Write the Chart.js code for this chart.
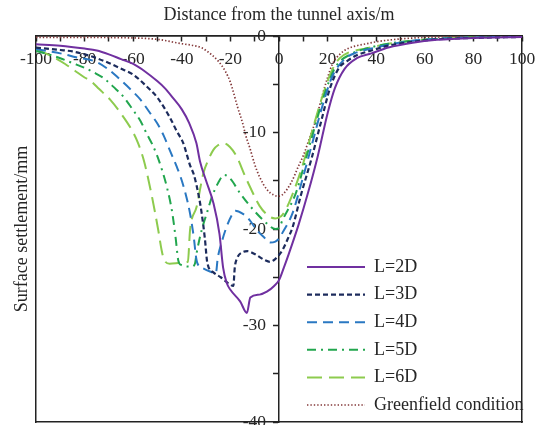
<!DOCTYPE html>
<html>
<head>
<meta charset="utf-8">
<script src="https://cdn.jsdelivr.net/npm/chart.js@4.4.1/dist/chart.umd.min.js"></script>
<style>
    html, body { margin: 0; padding: 0; background: #fff; }
    #wrap { width: 547px; height: 425px; }
</style>
</head>
<body>
<div id="wrap"><canvas id="settlement_chart" width="547" height="425"></canvas></div>
<script>
// トンネル軸からの距離(m)と地表沈下量(mm)
// L=2D
const l2dX = [-100, -90, -80, -75, -70, -65, -60, -55, -50, -47, -44, -40, -37, -34, -32.5, -30, -27, -24.5, -23, -21.5, -20, -16, -13.2, -11.8, -8, -5, -2, 0, 2, 4, 8, 12, 16, 20, 23, 27, 32, 38, 45, 55, 65, 80, 100];
const l2dY = [-0.85, -1.0, -1.3, -1.5, -1.9, -2.4, -2.9, -3.7, -4.7, -5.4, -6.3, -7.6, -9.0, -11.1, -13.0, -15.0, -17.3, -20.5, -24.0, -25.6, -26.3, -27.5, -28.7, -27.1, -26.8, -26.5, -25.9, -25.3, -24.0, -22.6, -19.6, -16.2, -12.4, -8.0, -5.4, -3.4, -2.3, -1.8, -1.2, -0.7, -0.4, -0.2, -0.1];
// L=3D
const l3dX = [-100, -90, -85, -80, -75, -70, -64, -60, -55, -50, -45, -42, -39.4, -36.6, -35, -33, -31.8, -30.5, -29.5, -27, -24, -21, -18.8, -18.2, -17.2, -15, -13, -10, -6, -3.7, -1.5, 0, 1.4, 4, 5.5, 9, 13.5, 17.5, 21, 24.7, 28, 32, 38, 45, 55, 65, 80, 100];
const l3dY = [-1.2, -1.45, -1.6, -1.9, -2.3, -2.8, -3.5, -4.0, -5.1, -6.4, -8.4, -9.9, -11.1, -13.4, -14.4, -16.6, -18.4, -21.0, -23.5, -24.5, -25.0, -25.6, -25.9, -24.0, -23.0, -22.4, -22.3, -22.6, -23.2, -23.4, -23.1, -22.7, -22.2, -20.8, -19.9, -16.5, -12.6, -8.7, -5.4, -3.3, -2.6, -2.0, -1.5, -1.0, -0.6, -0.35, -0.2, -0.1];
// L=4D
const l4dX = [-100, -90, -83.5, -75, -70, -65, -60, -57, -53, -50, -47.5, -45, -42, -40.5, -38.5, -36.6, -35, -34.2, -33.5, -31, -28.4, -26, -25.2, -23.5, -21.6, -19.5, -18, -15, -12, -9.2, -6, -3.7, -1.5, 0, 1.4, 5.5, 9.6, 13.7, 17.8, 21.9, 27.4, 32, 38, 45, 55, 65, 80, 100];
const l4dY = [-1.35, -1.8, -2.2, -2.7, -3.5, -4.6, -5.8, -6.6, -8.0, -9.1, -10.3, -11.8, -13.6, -14.6, -16.3, -18.4, -21.0, -22.8, -23.6, -24.1, -24.4, -24.6, -23.0, -21.3, -19.8, -18.6, -18.1, -18.4, -19.1, -20.1, -20.9, -21.4, -21.3, -21.0, -20.4, -18.4, -14.9, -11.1, -7.3, -4.2, -2.3, -1.7, -1.3, -0.9, -0.5, -0.3, -0.15, -0.05];
// L=5D
const l5dX = [-100, -95, -90, -85, -80, -76, -72, -68, -64, -60, -57, -54.5, -52, -50, -48, -46, -44, -42.5, -41.5, -40.5, -36, -34.6, -33.9, -31.8, -29.5, -27.5, -25, -22.5, -20, -16, -10.6, -5.1, -1.5, 0, 1.4, 6.9, 11, 15.2, 19.3, 23.3, 30.2, 36, 45, 55, 65, 80, 100];
const l5dY = [-1.55, -1.9, -2.3, -2.8, -3.3, -3.8, -4.4, -5.3, -6.3, -7.7, -8.8, -10.1, -11.3, -12.5, -14.0, -15.8, -18.2, -21.0, -23.2, -23.7, -23.9, -23.6, -22.5, -20.1, -18.2, -16.6, -15.2, -14.4, -14.8, -16.3, -18.0, -19.4, -20.0, -19.9, -19.1, -16.3, -12.8, -9.0, -5.6, -3.2, -1.8, -1.3, -0.8, -0.5, -0.3, -0.15, -0.05];
// L=6D
const l6dX = [-100, -96, -92, -88, -84, -80, -77.8, -74, -69.5, -64, -60, -58, -55.5, -52.4, -49.7, -48.3, -47.4, -45, -40, -37.5, -36.6, -33.9, -31.1, -29, -27, -25, -22.9, -20.2, -17.4, -14, -12, -8, -4, -1.5, 0, 1.5, 4.1, 9.6, 13.7, 17.8, 21.9, 25, 28.8, 35.8, 45, 55, 65, 80, 100];
const l6dY = [-1.45, -1.8, -2.3, -2.9, -3.6, -4.3, -4.6, -5.5, -6.6, -8.4, -10.0, -11.1, -13.0, -16.5, -20.1, -22.2, -23.1, -23.6, -23.5, -23.4, -20.1, -17.7, -14.2, -12.8, -11.8, -11.3, -11.1, -11.5, -12.5, -14.5, -15.6, -17.6, -18.7, -18.9, -18.8, -18.5, -17.3, -13.5, -9.8, -6.3, -3.5, -2.3, -1.7, -1.3, -0.8, -0.5, -0.3, -0.15, -0.05];
// Greenfield condition
const gfX = [-100, -80, -60, -50, -40, -35, -32, -30, -25, -22, -20, -17, -15, -13.7, -12, -10, -8, -5, -2, 0, 2, 5, 8, 10, 12, 15, 18, 20, 22, 25, 28, 32, 36, 40, 50, 60, 80, 100];
const gfY = [-0.15, -0.15, -0.2, -0.35, -0.8, -1.0, -1.2, -1.5, -2.6, -3.7, -4.8, -7.4, -9.0, -10.3, -11.6, -13.3, -14.6, -15.9, -16.5, -16.6, -16.3, -15.2, -13.5, -12.4, -11.0, -8.8, -6.0, -4.3, -2.9, -1.9, -1.35, -1.0, -0.8, -0.6, -0.3, -0.15, -0.05, 0];

// 軸の範囲と目盛
const xRange = [-100, 100];
const yRange = [-40, 0];
const xStep = 10;
const xLabelStep = 20;
const yStep = 5;
const yLabelStep = 10;

// 共通の書式
const FONT_FAMILY = "'Liberation Serif', 'Times New Roman', serif";
const TICK_FONT = { family: FONT_FAMILY, size: 17.5 };
const TEXT_FONT = { family: FONT_FAMILY, size: 18 };
const TEXT_COLOR = '#262626';
const AXIS_COLOR = '#222222';

// x配列とy配列を点の配列にまとめる
function toPoints(xs, ys) {
    return xs.map(function(x, i) {
        return { x: x, y: ys[i] };
    });
}

// 折れ線のデータセットを作成
function makeDataset(label, xs, ys, color, dash, width) {
    return {
        label: label,
        data: toPoints(xs, ys),
        borderColor: color,
        backgroundColor: color,
        borderWidth: width,
        borderDash: dash,
        borderCapStyle: 'butt',
        pointRadius: 0,
        cubicInterpolationMode: 'monotone',
        fill: false,
        xAxisID: 'x',
        yAxisID: 'y'
    };
}

// 外枠用の軸(目盛なし)
function frameAxis(position, title) {
    const axis = {
        type: 'linear',
        position: position,
        ticks: { display: false },
        grid: { display: false, drawTicks: false, tickLength: 0 },
        border: { display: true, color: AXIS_COLOR, width: 1.5 }
    };
    if (title) {
        axis.title = title;
    }
    return axis;
}

// 凡例を枠内の右下に置く
const legendPlacer = {
    id: 'legendPlacer',
    afterLayout(chart) {
        const area = chart.chartArea;
        const legend = chart.legend;
        legend.left = area.left + 261.4;
        legend.top = area.top + 212.4;
        legend.right = chart.width;
        // 最後の項目が2列目に回らないよう下端に余裕を持たせる
        legend.bottom = chart.height + 60;
        legend.width = legend.right - legend.left;
        legend.height = legend.bottom - legend.top;
    }
};

// グラフを作成
function createChart() {
    const ctx = document.getElementById('settlement_chart').getContext('2d');
    new Chart(ctx, {
        type: 'line',
        data: {
            datasets: [
                makeDataset('L=2D', l2dX, l2dY, '#7030A0', [], 2),
                makeDataset('L=3D', l3dX, l3dY, '#1C2B5C', [5, 3], 2.2),
                makeDataset('L=4D', l4dX, l4dY, '#2A78C2', [10, 6], 2),
                makeDataset('L=5D', l5dX, l5dY, '#22A64E', [9, 5, 2, 5], 2),
                makeDataset('L=6D', l6dX, l6dY, '#8DCB4E', [15, 7], 2),
                makeDataset('Greenfield condition', gfX, gfY, '#84393A', [1.4, 2], 1.7)
            ]
        },
        options: {
            responsive: false,
            animation: false,
            devicePixelRatio: 1,
            events: [],
            layout: { padding: { left: 0, top: 0, right: 25, bottom: 3 } },
            scales: {
                // トンネル軸の位置(y=0)に置く距離の軸
                x: {
                    type: 'linear',
                    position: { y: 0 },
                    min: xRange[0],
                    max: xRange[1],
                    ticks: {
                        stepSize: xStep,
                        autoSkip: false,
                        maxRotation: 0,
                        padding: 7.5,
                        color: TEXT_COLOR,
                        font: TICK_FONT,
                        callback: function(value) {
                            return Math.round(value) % xLabelStep === 0 ? String(Math.round(value)) : '';
                        }
                    },
                    grid: { drawOnChartArea: false, drawTicks: true, tickLength: 5, tickColor: AXIS_COLOR, tickWidth: 1.5 },
                    border: { color: AXIS_COLOR, width: 1.5 },
                    afterFit: function(scale) {
                        scale.paddingLeft = 0;
                        scale.paddingRight = 0;
                    }
                },
                // 沈下量の軸(x範囲が左右対称なので中央 = x=0)
                y: {
                    type: 'linear',
                    position: 'center',
                    min: yRange[0],
                    max: yRange[1],
                    ticks: {
                        stepSize: yStep,
                        autoSkip: false,
                        padding: 8,
                        color: TEXT_COLOR,
                        font: TICK_FONT,
                        callback: function(value) {
                            return Math.round(value) % yLabelStep === 0 ? String(Math.round(value)) : '';
                        }
                    },
                    grid: { drawOnChartArea: false, drawTicks: true, tickLength: 5, tickColor: AXIS_COLOR, tickWidth: 1.5 },
                    border: { color: AXIS_COLOR, width: 1.5 },
                    afterFit: function(scale) {
                        scale.paddingTop = 0;
                        scale.paddingBottom = 0;
                    }
                },
                xTop: frameAxis('top', {
                    display: true,
                    text: 'Distance from the tunnel axis/m',
                    color: TEXT_COLOR,
                    font: TEXT_FONT,
                    padding: { top: 4.2, bottom: 10.2 }
                }),
                yLeft: frameAxis('left', {
                    display: true,
                    text: 'Surface settlement/mm',
                    color: TEXT_COLOR,
                    font: TEXT_FONT,
                    padding: { top: 11.2, bottom: 3.2 }
                }),
                xBottom: frameAxis('bottom'),
                yRight: frameAxis('right')
            },
            plugins: {
                title: { display: false },
                tooltip: { enabled: false },
                legend: {
                    position: 'chartArea',
                    align: 'start',
                    labels: {
                        usePointStyle: true,
                        pointStyle: 'line',
                        pointStyleWidth: 58,
                        padding: 9.6,
                        color: TEXT_COLOR,
                        font: TEXT_FONT,
                        // 線種(破線)を凡例にも反映させる
                        generateLabels: function(chart) {
                            return chart.data.datasets.map(function(ds, i) {
                                return {
                                    text: ds.label,
                                    fillStyle: 'rgba(0,0,0,0)',
                                    strokeStyle: ds.borderColor,
                                    lineWidth: ds.borderWidth,
                                    lineDash: ds.borderDash,
                                    lineCap: 'butt',
                                    pointStyle: 'line',
                                    fontColor: TEXT_COLOR,
                                    hidden: false,
                                    datasetIndex: i
                                };
                            });
                        }
                    }
                }
            }
        },
        plugins: [legendPlacer]
    });
}

createChart();
</script>
</body>
</html>
